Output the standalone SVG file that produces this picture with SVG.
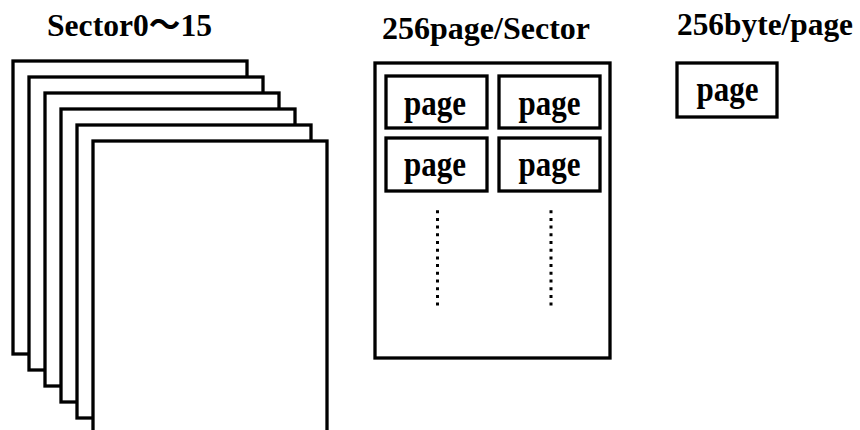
<svg xmlns="http://www.w3.org/2000/svg" width="860" height="430" viewBox="0 0 860 430">
  <style>
    .frame { fill: #ffffff; stroke: #000000; stroke-width: 3.3; }
    .title { font-family: "Liberation Serif", "Times New Roman", "Noto Sans CJK SC", serif; font-weight: bold; font-size: 32px; fill: #000000; }
    .label { font-family: "Liberation Serif", "Times New Roman", serif; font-weight: bold; font-size: 36px; fill: #000000; text-anchor: middle; }
    .dots { stroke: #000000; stroke-width: 3; stroke-dasharray: 3 4.7; fill: none; }
  </style>
  <rect width="860" height="430" fill="#ffffff"/>

  <!-- Sector stack: 16 sectors drawn as overlapping sheets -->
  <g id="sectors">
    <text class="title" x="47" y="36" textLength="165" lengthAdjust="spacingAndGlyphs">Sector0～15</text>
    <rect class="frame" x="13" y="61" width="234" height="293"/>
    <rect class="frame" x="29" y="77" width="234" height="293"/>
    <rect class="frame" x="45" y="93" width="234" height="293"/>
    <rect class="frame" x="61" y="109" width="234" height="293"/>
    <rect class="frame" x="77" y="125" width="234" height="293"/>
    <rect class="frame" x="93" y="141" width="234" height="300"/>
  </g>

  <!-- One sector holding 256 pages -->
  <g id="sector">
    <text class="title" x="382" y="39" textLength="208" lengthAdjust="spacingAndGlyphs">256page/Sector</text>
    <rect class="frame" x="375" y="63" width="235" height="295"/>
  </g>
  <g id="page-1">
    <rect class="frame" x="386" y="76" width="101" height="52"/>
    <text class="label" x="435" y="114.5" textLength="62" lengthAdjust="spacingAndGlyphs">page</text>
  </g>
  <g id="page-2">
    <rect class="frame" x="499" y="76" width="101" height="52"/>
    <text class="label" x="549.5" y="114.5" textLength="62" lengthAdjust="spacingAndGlyphs">page</text>
  </g>
  <g id="page-3">
    <rect class="frame" x="386" y="138" width="101" height="53"/>
    <text class="label" x="435" y="176" textLength="62" lengthAdjust="spacingAndGlyphs">page</text>
  </g>
  <g id="page-4">
    <rect class="frame" x="499" y="138" width="101" height="53"/>
    <text class="label" x="549.5" y="176" textLength="62" lengthAdjust="spacingAndGlyphs">page</text>
  </g>

  <!-- Continuation marks for the remaining pages -->
  <g id="connectors">
    <line class="dots" x1="437.5" y1="210.2" x2="437.5" y2="306"/>
    <line class="dots" x1="551" y1="210.2" x2="551" y2="306"/>
  </g>

  <!-- One page of 256 bytes -->
  <g id="page">
    <text class="title" x="677" y="35" textLength="176" lengthAdjust="spacingAndGlyphs">256byte/page</text>
    <rect class="frame" x="677" y="63" width="100" height="54"/>
    <text class="label" x="727.5" y="101" textLength="62" lengthAdjust="spacingAndGlyphs">page</text>
  </g>
</svg>
